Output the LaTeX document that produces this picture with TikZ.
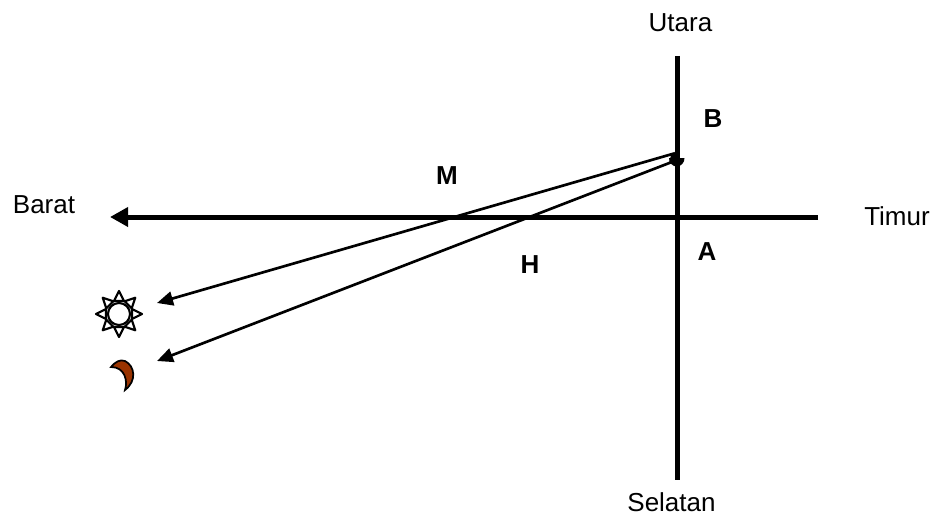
\documentclass[tikz,border=0pt]{standalone}
\usepackage{fontspec}
\setmainfont{Liberation Sans}
\usetikzlibrary{arrows.meta}
\definecolor{moonBrown}{RGB}{153,51,0}
\tikzset{
  axisLine/.style={line width=3.75pt},
  rayLine/.style={line width=2pt,-{Triangle[length=12pt,width=10.5pt]}},
  compassLabel/.style={anchor=base,inner sep=0pt,font=\fontsize{19.5}{22}\selectfont},
  angleLabel/.style={anchor=base,inner sep=0pt,font=\fontsize{19.5}{22}\selectfont\bfseries},
  sunRay/.style={draw=black,line width=1.6pt,fill=white,line join=round},
}
\begin{document}
\begin{tikzpicture}[x=0.75pt,y=-0.75pt]
\useasboundingbox (0,0) rectangle (934,517);
\node[compassLabel] (utara) at (680.5,32) {Utara};
\node[compassLabel] (selatan) at (671.5,511.5) {Selatan};
\node[compassLabel] (barat) at (44,213) {Barat};
\node[compassLabel] (timur) at (897,225) {Timur};
\node[angleLabel] (labelB) at (713,127.5) {B};
\node[angleLabel] (labelM) at (447,184) {M};
\node[angleLabel] (labelH) at (530,273) {H};
\node[angleLabel] (labelA) at (707,260) {A};
\coordinate (northEnd) at (677,56);
\coordinate (southEnd) at (677,480);
\coordinate (eastEnd) at (818,217);
\coordinate (westEnd) at (110,217);
\coordinate (sunObserver) at (675,153.2);
\coordinate (moonObserver) at (675,160.8);
\coordinate (sunTip) at (157,303);
\coordinate (moonTip) at (157,361);
\draw[axisLine] (northEnd) -- (southEnd);
\draw[axisLine,-{Triangle[length=13.5pt,width=14pt]}] (eastEnd) -- (westEnd);
\fill (669,158) -- (684.5,158) arc (0:180:7.75 and 8.5) -- cycle;
\fill (671,155) -- (677,153) -- (677,162) -- (669,163) -- cycle;
\draw[rayLine] (sunObserver) -- (sunTip);
\draw[rayLine] (moonObserver) -- (moonTip);
% sun
\foreach \a in {0,45,...,315}
  \draw[sunRay,shift={(119,314)},rotate=\a] (13,-5) -- (23,0) -- (13,5) -- cycle;
\node[draw=black,line width=1.6pt,fill=white,circle,minimum size=16.5pt,inner sep=0pt] (sun) at (119,314) {};
% moon
\draw[fill=moonBrown,draw=black,line width=1.3pt] (111,367) .. controls (115,362) and (120,359) .. (125,361)
  .. controls (135,366) and (137,381) .. (125,390)
  .. controls (128,381) and (125,367) .. (111,367) -- cycle;
\end{tikzpicture}
\end{document}
